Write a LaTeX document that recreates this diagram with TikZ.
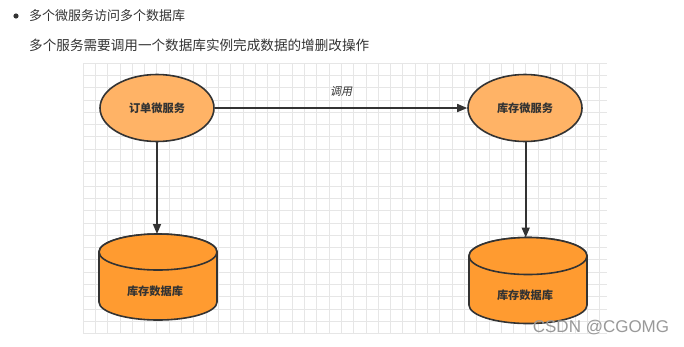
\documentclass[tikz,border=0pt]{standalone}
\usepackage{fontspec}
\setmainfont{Liberation Sans}
\newfontfamily\cjk{Noto Sans CJK SC}
\newfontfamily\cjkit{Noto Sans CJK SC}[FakeSlant=0.2]
\usetikzlibrary{shapes.geometric,arrows.meta}
\definecolor{ink}{HTML}{333333}
\definecolor{svc}{HTML}{FFB366}
\definecolor{dbf}{HTML}{FF9B30}
\definecolor{gridc}{HTML}{E6E6E6}
\tikzset{
  svcnode/.style={ellipse, draw=ink, line width=1.6pt, fill=svc, minimum width=114pt, minimum height=67pt, inner sep=0pt, font=\cjk\bfseries\fontsize{11.2}{12}\selectfont, text=ink},
  dbbody/.style={draw=ink, line width=1.6pt, fill=dbf},
  dblabel/.style={font=\cjk\bfseries\fontsize{11.2}{12}\selectfont, text=ink},
  conn/.style={draw=ink, line width=1.6pt, -{Triangle[length=10pt,width=8pt]}},
  head/.style={anchor=west, text=ink, inner sep=0pt},
}
\begin{document}
\begin{tikzpicture}[x=1pt,y=-1pt]
\useasboundingbox (0,0) rectangle (684,346);
\fill[white] (0,0) rectangle (684,346);
% grid
\foreach \i in {0,...,42} {
  \draw[gridc, line width=0.7pt] ({83+\i*12.3},63) -- ({83+\i*12.3},334);
}
\foreach \j in {0,...,22} {
  \draw[gridc, line width=0.7pt] (83,{63+\j*12.3}) -- (607,{63+\j*12.3});
}
% header
\fill[ink] (16,16) circle (2.6pt);
\node[head, font=\cjk\fontsize{13}{14}\selectfont] (t1) at (29,16) {多个微服务访问多个数据库};
\node[head, font=\cjk\fontsize{13.6}{15}\selectfont] (t2) at (29,45) {多个服务需要调用一个数据库实例完成数据的增删改操作};
% services
\node[svcnode] (order) at (157,108) {订单微服务};
\node[svcnode] (stock) at (525,108) {库存微服务};
% left cylinder
\path[dbbody] (99,252) arc[start angle=180, end angle=360, x radius=59, y radius=18]
  -- (217,302) arc[start angle=0, end angle=180, x radius=59, y radius=18] -- cycle;
\path[dbbody] (158,252) ellipse[x radius=59, y radius=18];
\coordinate (db1top) at (157,234);
\node[dblabel] (db1) at (155,291) {库存数据库};
% right cylinder
\path[dbbody] (469,256) arc[start angle=180, end angle=360, x radius=59, y radius=18.5]
  -- (587,305) arc[start angle=0, end angle=180, x radius=59, y radius=18.5] -- cycle;
\path[dbbody] (528,256) ellipse[x radius=59, y radius=18.5];
\coordinate (db2top) at (525.7,237.5);
\node[dblabel] (db2) at (525,295) {库存数据库};
% connectors
\draw[conn] (order) -- (stock) node[midway, above=7pt, font=\cjkit\fontsize{11}{12}\selectfont, text=ink] (call) {调用};
\draw[conn] (order.south) -- (db1top);
\draw[conn] (stock.south -| db2top) -- (db2top);
% watermark
\node[text=black!40, font=\fontsize{17}{18}\selectfont, anchor=center] (wm) at (601,328) {CSDN @CGOMG};
\end{tikzpicture}
\end{document}
